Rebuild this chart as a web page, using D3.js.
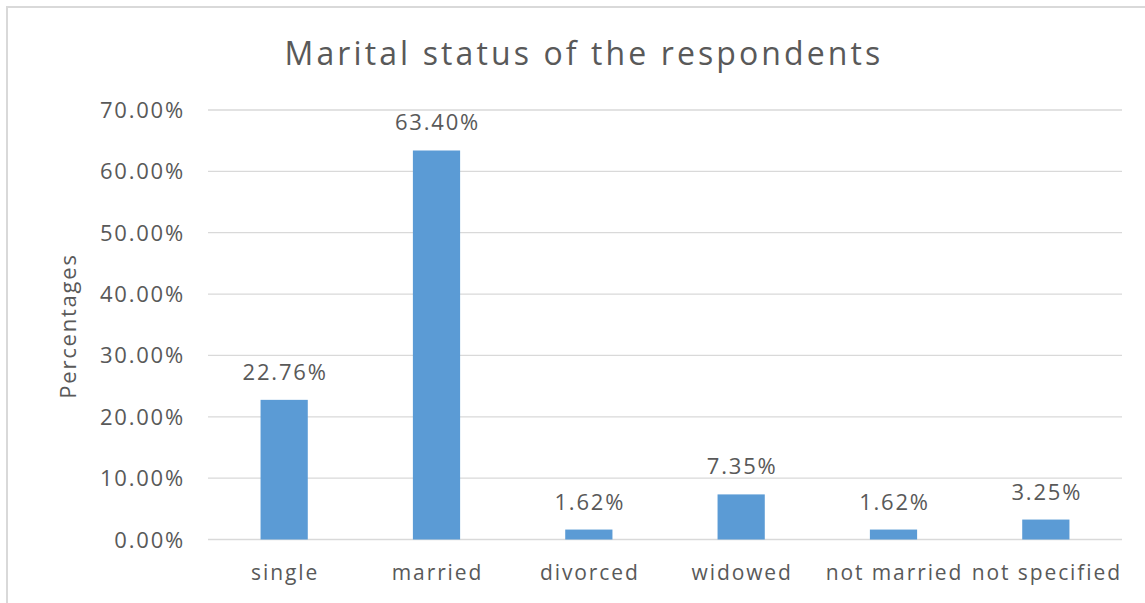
<!DOCTYPE html>
<html>
<head>
<meta charset="utf-8">
<script src="https://cdn.jsdelivr.net/npm/d3@7"></script>
<style>
  body { margin: 0; background: #fff; }
  text { font-family: "Open Sans", sans-serif; fill: #595959; }
</style>
</head>
<body>
<svg id="chart" width="1145" height="603"></svg>
<script>

var categories = ["single", "married", "divorced", "widowed", "not married", "not specified"]

var values = [22.76, 63.40, 1.62, 7.35, 1.62, 3.25]

var ticks = [0, 10, 20, 30, 40, 50, 60, 70]

var svg = d3.select('#chart')

// outer chart border
svg.append("rect")
        .attr("x", 7)
        .attr("y", 7)
        .attr("width", 1150)
        .attr("height", 610)
        .attr("fill", "none")
        .attr("stroke", "#d9d9d9")
        .attr("stroke-width", 2)

var x = d3.scaleBand()
            .domain(categories)
            .range([208, 1122])

var y = d3.scaleLinear()
            .domain([0, 70])
            .range([539.5, 110])

var barW = x.bandwidth() * 0.31

svg.append("text")
        .attr("x", 584)
        .attr("y", 65)
        .attr("text-anchor", "middle")
        .attr("font-size", "32px")
        .attr("letter-spacing", "3.1px")
        .text("Marital status of the respondents")

// gridlines
svg.append("g")
        .selectAll("line")
        .data(ticks)
        .enter()
        .append("line")
        .attr("x1", 208)
        .attr("x2", 1122)
        .attr("y1", function(d) { return y(d) })
        .attr("y2", function(d) { return y(d) })
        .attr("stroke", "#d9d9d9")
        .attr("stroke-width", 1.3)

svg.append("g")
        .selectAll("text")
        .data(ticks)
        .enter()
        .append("text")
        .attr("x", 185)
        .attr("y", function(d) { return y(d) + 8 })
        .attr("text-anchor", "end")
        .attr("font-size", "22px")
        .attr("letter-spacing", "1.8px")
        .text(function(d) { return d.toFixed(2) + "%" })

svg.append("text")
        .attr("transform", "translate(76, 326) rotate(-90)")
        .attr("text-anchor", "middle")
        .attr("font-size", "22px")
        .attr("letter-spacing", "1.8px")
        .text("Percentages")

svg.append("g")
        .selectAll("rect")
        .data(values)
        .enter()
        .append("rect")
        .attr("x", function(d, i) { return x(categories[i]) + x.bandwidth() / 2 - barW / 2 })
        .attr("y", function(d) { return y(d) })
        .attr("width", barW)
        .attr("height", function(d) { return y(0) - y(d) })
        .attr("fill", "#5b9bd5")

svg.append("g")
        .selectAll("text")
        .data(values)
        .enter()
        .append("text")
        .attr("x", function(d, i) { return x(categories[i]) + x.bandwidth() / 2 + 1 })
        .attr("y", function(d) { return y(d) - 20 })
        .attr("text-anchor", "middle")
        .attr("font-size", "22px")
        .attr("letter-spacing", "1.8px")
        .text(function(d) { return d.toFixed(2) + "%" })

svg.append("g")
        .selectAll("text")
        .data(categories)
        .enter()
        .append("text")
        .attr("x", function(d) { return x(d) + x.bandwidth() / 2 + 1 })
        .attr("y", 580)
        .attr("text-anchor", "middle")
        .attr("font-size", "21px")
        .attr("letter-spacing", "1.9px")
        .text(function(d) { return d })

</script>
</body>
</html>
